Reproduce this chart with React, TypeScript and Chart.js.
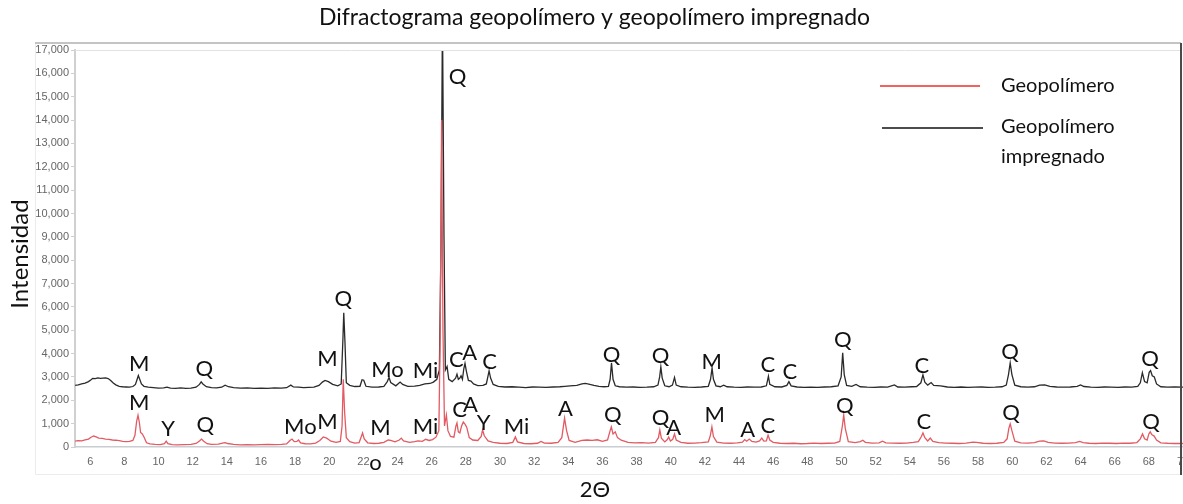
import React, { useEffect, useRef } from 'react';
import { Chart, registerables } from 'chart.js';

Chart.register(...registerables);

// 2θ axis
const TWO_THETA_MIN = 5.11;
const TWO_THETA_MAX = 70;
const X_TICKS = [6, 8, 10, 12, 14, 16, 18, 20, 22, 24, 26, 28, 30, 32, 34, 36, 38, 40, 42, 44, 46, 48, 50, 52, 54, 56, 58, 60, 62, 64, 66, 68, 70];

// Intensity axis
const Y_MIN = 0;
const Y_MAX = 17000;
const Y_STEP = 1000;

const TITLE = 'Difractograma geopolímero y geopolímero impregnado';
const Y_TITLE = 'Intensidad';
const X_TITLE = '2Θ';
const SERIES_NAMES = ['Geopolímero', 'Geopolímero impregnado'];

// Geopolímero: [2θ, intensidad]
const geopolimero: [number, number][] = [
  [5.12, 250], [5.3, 270], [5.5, 260], [5.7, 300], [5.9, 340], [6.05, 420], [6.2, 470], [6.35, 430], [6.5, 380], [6.7, 370],
  [6.9, 340], [7.1, 330], [7.3, 300], [7.5, 290], [7.7, 270], [7.9, 240], [8.1, 230], [8.3, 240], [8.5, 280], [8.62, 500],
  [8.72, 1100], [8.8, 1360], [8.88, 1050], [8.95, 620], [9.05, 560], [9.15, 430], [9.3, 180], [9.5, 130], [9.8, 110], [10.1, 100],
  [10.35, 140], [10.45, 250], [10.55, 140], [10.8, 100], [11.1, 90], [11.5, 100], [11.9, 110], [12.2, 150], [12.4, 260], [12.52, 340],
  [12.65, 250], [12.85, 140], [13.1, 110], [13.5, 120], [13.75, 170], [13.9, 190], [14.05, 150], [14.4, 110], [14.8, 90], [15.2, 100],
  [15.6, 90], [16.0, 100], [16.4, 110], [16.8, 100], [17.2, 110], [17.5, 130], [17.7, 280], [17.82, 340], [17.95, 230], [18.1, 240],
  [18.2, 300], [18.32, 180], [18.6, 140], [18.9, 130], [19.2, 170], [19.45, 280], [19.65, 430], [19.85, 380], [20.1, 250], [20.4, 200],
  [20.65, 240], [20.75, 900], [20.82, 2900], [20.9, 1500], [21.0, 400], [21.2, 230], [21.5, 170], [21.75, 190], [21.88, 450], [21.95, 600],
  [22.05, 350], [22.25, 180], [22.6, 150], [22.9, 160], [23.2, 200], [23.45, 300], [23.6, 280], [23.85, 220], [24.1, 300], [24.22, 380],
  [24.35, 260], [24.7, 200], [25.0, 230], [25.2, 260], [25.45, 240], [25.65, 330], [25.85, 280], [26.05, 320], [26.25, 420], [26.42, 700],
  [26.5, 5000], [26.58, 14000], [26.66, 5000], [26.75, 900], [26.86, 1370], [26.95, 700], [27.1, 450], [27.3, 420], [27.42, 900], [27.48, 1030],
  [27.56, 650], [27.65, 600], [27.75, 900], [27.85, 1070], [27.95, 980], [28.05, 850], [28.2, 400], [28.4, 300], [28.7, 280], [28.9, 450],
  [28.98, 730], [29.08, 480], [29.3, 260], [29.6, 200], [30.0, 160], [30.4, 150], [30.75, 200], [30.9, 430], [31.02, 220], [31.4, 150],
  [31.8, 140], [32.2, 160], [32.4, 240], [32.6, 170], [33.0, 160], [33.4, 200], [33.62, 400], [33.78, 1240], [33.9, 700], [34.05, 280],
  [34.4, 200], [34.8, 280], [35.1, 300], [35.4, 280], [35.7, 310], [36.0, 240], [36.3, 300], [36.45, 700], [36.52, 860], [36.62, 560],
  [36.75, 650], [36.88, 400], [37.1, 290], [37.5, 200], [37.9, 180], [38.3, 190], [38.7, 170], [39.1, 200], [39.28, 400], [39.36, 730],
  [39.45, 380], [39.65, 220], [39.8, 320], [39.88, 430], [39.98, 260], [40.12, 330], [40.22, 560], [40.32, 300], [40.6, 200], [41.0, 160],
  [41.4, 170], [41.8, 190], [42.2, 220], [42.32, 500], [42.41, 860], [42.5, 450], [42.7, 210], [43.1, 170], [43.5, 160], [43.9, 180],
  [44.2, 210], [44.33, 320], [44.45, 250], [44.6, 340], [44.75, 240], [45.0, 210], [45.2, 260], [45.33, 380], [45.45, 250], [45.6, 260],
  [45.7, 510], [45.8, 300], [46.0, 200], [46.4, 160], [46.8, 150], [47.2, 160], [47.6, 140], [48.0, 150], [48.4, 170], [48.8, 150],
  [49.2, 160], [49.6, 170], [49.9, 240], [50.05, 900], [50.13, 1370], [50.22, 800], [50.4, 230], [50.8, 190], [51.1, 230], [51.25, 290],
  [51.4, 200], [51.8, 170], [52.2, 180], [52.4, 250], [52.6, 180], [53.0, 170], [53.4, 160], [53.8, 170], [54.2, 200], [54.5, 230],
  [54.68, 450], [54.77, 600], [54.88, 400], [55.05, 260], [55.2, 380], [55.35, 240], [55.7, 190], [56.1, 170], [56.5, 160], [56.9, 150],
  [57.3, 170], [57.7, 210], [57.9, 200], [58.3, 160], [58.7, 150], [59.1, 160], [59.5, 200], [59.7, 350], [59.8, 800], [59.88, 990],
  [59.98, 700], [60.15, 250], [60.5, 180], [60.9, 170], [61.3, 190], [61.6, 250], [61.85, 260], [62.1, 200], [62.5, 170], [62.9, 160],
  [63.3, 170], [63.7, 190], [63.95, 240], [64.15, 190], [64.5, 160], [64.9, 150], [65.3, 170], [65.7, 160], [66.1, 150], [66.5, 170],
  [66.9, 160], [67.3, 190], [67.5, 350], [67.63, 560], [67.75, 350], [67.9, 300], [68.0, 560], [68.08, 650], [68.18, 520], [68.3, 480],
  [68.45, 300], [68.7, 180], [69.1, 160], [69.5, 150], [70.0, 150],
];

// Geopolímero impregnado: [2θ, intensidad]
const geopolimeroImpregnado: [number, number][] = [
  [5.12, 2640], [5.3, 2660], [5.5, 2700], [5.7, 2740], [5.9, 2800], [6.05, 2880], [6.15, 2940], [6.3, 2930], [6.45, 2960], [6.6, 2940],
  [6.75, 2950], [6.9, 2960], [7.05, 2930], [7.2, 2850], [7.35, 2740], [7.5, 2660], [7.7, 2600], [7.9, 2580], [8.1, 2570], [8.3, 2560],
  [8.5, 2590], [8.65, 2680], [8.75, 2900], [8.82, 3060], [8.9, 2900], [9.0, 2700], [9.15, 2600], [9.4, 2560], [9.7, 2540], [10.0, 2520],
  [10.3, 2530], [10.5, 2560], [10.7, 2520], [11.0, 2510], [11.3, 2530], [11.6, 2510], [11.9, 2520], [12.2, 2560], [12.4, 2680], [12.5, 2790],
  [12.6, 2700], [12.8, 2580], [13.1, 2540], [13.4, 2530], [13.7, 2560], [13.9, 2650], [14.1, 2580], [14.4, 2540], [14.8, 2520], [15.2, 2530],
  [15.6, 2510], [16.0, 2520], [16.4, 2510], [16.8, 2530], [17.2, 2520], [17.5, 2540], [17.75, 2650], [17.9, 2570], [18.2, 2560], [18.5, 2540],
  [18.8, 2550], [19.1, 2560], [19.4, 2640], [19.6, 2780], [19.75, 2850], [19.95, 2800], [20.2, 2680], [20.5, 2620], [20.7, 2700], [20.8, 4600],
  [20.85, 5750], [20.92, 4500], [21.0, 2750], [21.2, 2640], [21.5, 2590], [21.8, 2600], [21.92, 2880], [22.02, 2860], [22.15, 2600], [22.5, 2560],
  [22.9, 2570], [23.2, 2600], [23.4, 2800], [23.5, 2980], [23.6, 2760], [23.9, 2620], [24.15, 2780], [24.3, 2680], [24.6, 2600], [25.0, 2610],
  [25.3, 2640], [25.6, 2700], [25.9, 2720], [26.1, 2780], [26.3, 2900], [26.45, 3300], [26.55, 9000], [26.63, 18500], [26.72, 9000], [26.8, 3300],
  [26.9, 3450], [27.0, 2900], [27.2, 2800], [27.4, 2950], [27.48, 3120], [27.56, 2900], [27.65, 2950], [27.72, 3050], [27.8, 2900], [27.88, 3350],
  [27.95, 3580], [28.03, 3250], [28.15, 2850], [28.3, 2820], [28.45, 2700], [28.7, 2630], [29.0, 2640], [29.2, 2700], [29.3, 3050], [29.36, 3260],
  [29.45, 2950], [29.6, 2680], [29.9, 2600], [30.3, 2570], [30.7, 2580], [31.1, 2560], [31.5, 2540], [31.9, 2570], [32.3, 2560], [32.7, 2550],
  [33.1, 2570], [33.5, 2580], [33.8, 2600], [34.1, 2620], [34.5, 2640], [34.8, 2700], [35.0, 2720], [35.2, 2690], [35.5, 2640], [35.8, 2600],
  [36.1, 2580], [36.35, 2600], [36.45, 2900], [36.53, 3600], [36.62, 2900], [36.75, 2620], [37.0, 2580], [37.4, 2560], [37.8, 2570], [38.2, 2550],
  [38.6, 2560], [39.0, 2580], [39.25, 2650], [39.35, 3000], [39.42, 3430], [39.5, 2950], [39.65, 2620], [39.9, 2580], [40.1, 2650], [40.22, 2980],
  [40.32, 2650], [40.6, 2580], [41.0, 2560], [41.4, 2550], [41.8, 2570], [42.2, 2600], [42.33, 2900], [42.42, 3380], [42.5, 2900], [42.65, 2620],
  [42.9, 2580], [43.1, 2650], [43.3, 2580], [43.7, 2560], [44.1, 2550], [44.5, 2570], [44.9, 2560], [45.3, 2570], [45.6, 2620], [45.72, 3030],
  [45.8, 2680], [46.1, 2580], [46.5, 2570], [46.8, 2640], [46.92, 2800], [47.05, 2620], [47.4, 2570], [47.8, 2550], [48.2, 2560], [48.6, 2550],
  [49.0, 2570], [49.4, 2580], [49.8, 2620], [49.98, 3000], [50.07, 4030], [50.16, 3100], [50.3, 2640], [50.6, 2600], [50.85, 2680], [51.1, 2580],
  [51.5, 2560], [51.9, 2550], [52.3, 2570], [52.7, 2560], [53.1, 2660], [53.3, 2570], [53.7, 2560], [54.1, 2580], [54.4, 2590], [54.65, 2750],
  [54.77, 3090], [54.88, 2780], [55.05, 2650], [55.25, 2760], [55.4, 2640], [55.8, 2620], [56.2, 2570], [56.6, 2550], [57.0, 2570], [57.4, 2550],
  [57.8, 2560], [58.2, 2570], [58.6, 2550], [59.0, 2560], [59.4, 2580], [59.65, 2650], [59.78, 3100], [59.88, 3600], [59.98, 3100], [60.15, 2650],
  [60.5, 2580], [60.9, 2560], [61.3, 2580], [61.6, 2650], [61.9, 2660], [62.2, 2600], [62.6, 2570], [63.0, 2560], [63.4, 2570], [63.8, 2600],
  [64.0, 2660], [64.2, 2590], [64.6, 2560], [65.0, 2550], [65.4, 2570], [65.8, 2560], [66.2, 2550], [66.6, 2570], [67.0, 2560], [67.35, 2600],
  [67.5, 2750], [67.62, 3180], [67.75, 2800], [67.9, 2750], [68.02, 3200], [68.1, 3270], [68.2, 3050], [68.32, 3000], [68.45, 2700], [68.7, 2580],
  [69.1, 2560], [69.5, 2570], [70.0, 2560],
];

// Phase labels above the impregnated pattern: [fase, 2θ, intensidad]
const impregnadoPhases: [string, number, number][] = [
  ['M', 8.87, 3560], ['Q', 12.68, 3350], ['M', 19.89, 3780], ['Q', 20.83, 6350], ['Mo', 23.41, 3300],
  ['Mi', 25.64, 3260], ['Q', 27.51, 15840], ['C', 27.45, 3730], ['A', 28.22, 4030], ['C', 29.39, 3650],
  ['Q', 36.54, 3950], ['Q', 39.41, 3900], ['M', 42.4, 3650], ['C', 45.68, 3520], ['C', 46.97, 3220],
  ['Q', 50.08, 4590], ['C', 54.71, 3480], ['Q', 59.87, 4080], ['Q', 68.07, 3780],
];

// Phase labels above the geopolymer pattern: [fase, 2θ, intensidad]
const geopolimeroPhases: [string, number, number][] = [
  ['M', 8.87, 1890], ['Y', 10.57, 770], ['Q', 12.74, 940], ['Mo', 18.31, 860], ['M', 19.89, 1070],
  ['M', 23.0, 815], ['o', 22.71, -690], ['Mi', 25.64, 860], ['C', 27.63, 1590], ['A', 28.27, 1800],
  ['Y', 29.04, 1030], ['Mi', 30.97, 860], ['A', 33.84, 1630], ['Q', 36.6, 1370], ['Q', 39.41, 1245],
  ['A', 40.17, 815], ['M', 42.58, 1370], ['A', 44.51, 730], ['C', 45.68, 900], ['Q', 50.2, 1760],
  ['C', 54.83, 1070], ['Q', 59.93, 1460], ['Q', 68.13, 1070],
];

const RED = '#e25a62';
const DARK = '#2a2a2a';
const TEXT = '#111111';
const TEXT_FONT = 'Lato, "Open Sans", sans-serif';

const decorations = {
  id: 'decorations',
  afterDraw(chart: any) {
    const { ctx, chartArea, scales } = chart;
    const xs = scales.x;
    const ys = scales.y;
    const W = chart.width;
    ctx.save();

    // outer frame
    ctx.strokeStyle = '#ececec';
    ctx.lineWidth = 1;
    ctx.beginPath();
    ctx.moveTo(35.5, 43);
    ctx.lineTo(35.5, 474.5);
    ctx.lineTo(chartArea.right - 2, 474.5);
    ctx.stroke();

    ctx.strokeStyle = '#c4c4c4';
    ctx.lineWidth = 2;
    ctx.beginPath();
    ctx.moveTo(35, 43);
    ctx.lineTo(chartArea.right - 2, 43);
    ctx.stroke();

    ctx.strokeStyle = '#e2e2e2';
    ctx.lineWidth = 1;
    ctx.beginPath();
    ctx.moveTo(chartArea.left, chartArea.top + 0.5);
    ctx.lineTo(chartArea.right - 2, chartArea.top + 0.5);
    ctx.stroke();

    ctx.strokeStyle = '#4a4a4a';
    ctx.lineWidth = 2;
    ctx.beginPath();
    ctx.moveTo(chartArea.right - 2, 43);
    ctx.lineTo(chartArea.right - 2, 475);
    ctx.stroke();

    // phase labels
    ctx.fillStyle = TEXT;
    ctx.textAlign = 'center';
    ctx.textBaseline = 'middle';
    ctx.font = `22px ${TEXT_FONT}`;
    for (const [label, x, y] of [...impregnadoPhases, ...geopolimeroPhases]) {
      ctx.fillText(label, xs.getPixelForValue(x), ys.getPixelForValue(y));
    }

    // title
    ctx.font = `23px ${TEXT_FONT}`;
    ctx.fillText(TITLE, W / 2 + 3, 18);

    // axis titles
    ctx.font = `22px ${TEXT_FONT}`;
    ctx.fillText(X_TITLE, 595, 490);
    ctx.save();
    ctx.translate(20, 254);
    ctx.rotate(-Math.PI / 2);
    ctx.font = `24px ${TEXT_FONT}`;
    ctx.fillText(Y_TITLE, 0, 0);
    ctx.restore();

    // legend
    ctx.lineWidth = 1.6;
    ctx.strokeStyle = '#e8322b';
    ctx.beginPath();
    ctx.moveTo(880, 86);
    ctx.lineTo(980, 86);
    ctx.stroke();
    ctx.strokeStyle = '#111';
    ctx.beginPath();
    ctx.moveTo(882, 128);
    ctx.lineTo(983, 128);
    ctx.stroke();
    ctx.textAlign = 'left';
    ctx.font = `20px ${TEXT_FONT}`;
    ctx.fillText(SERIES_NAMES[0], 1001, 86);
    const [first, second] = SERIES_NAMES[1].split(' ');
    ctx.fillText(first, 1001, 127);
    ctx.fillText(second, 1001, 157);

    ctx.restore();
  },
};

export default function App() {
  const canvasRef = useRef<HTMLCanvasElement | null>(null);

  useEffect(() => {
    const canvas = canvasRef.current;
    if (!canvas) return;
    const chart = new Chart(canvas, {
      type: 'line',
      data: {
        datasets: [
          {
            label: SERIES_NAMES[0],
            data: geopolimero.map(([x, y]) => ({ x, y })),
            borderColor: RED,
            borderWidth: 1.3,
            pointRadius: 0,
            tension: 0,
            fill: false,
          },
          {
            label: SERIES_NAMES[1],
            data: geopolimeroImpregnado.map(([x, y]) => ({ x, y })),
            borderColor: DARK,
            borderWidth: 1.3,
            pointRadius: 0,
            tension: 0,
            fill: false,
          },
        ],
      },
      options: {
        responsive: false,
        animation: false,
        devicePixelRatio: 1,
        layout: { padding: { top: 50, left: 0, right: 0, bottom: 0 } },
        plugins: {
          legend: { display: false },
          title: { display: false },
          tooltip: { enabled: false },
        },
        scales: {
          x: {
            type: 'linear',
            min: TWO_THETA_MIN,
            max: TWO_THETA_MAX,
            afterBuildTicks: (scale: any) => {
              scale.ticks = X_TICKS.map((value) => ({ value }));
            },
            afterFit: (scale: any) => {
              scale.height = 57;
              scale.paddingLeft = 0;
              scale.paddingRight = 0;
            },
            grid: { drawOnChartArea: false, drawTicks: false },
            border: { color: '#c9ccd0', width: 1.5 },
            ticks: {
              padding: 8,
              maxRotation: 0,
              autoSkip: false,
              color: '#666',
              font: { family: '"Liberation Sans", Arial, sans-serif', size: 11 },
              callback: (v: any) => String(v),
            },
          },
          y: {
            min: Y_MIN,
            max: Y_MAX,
            afterFit: (scale: any) => {
              scale.width = 75;
            },
            grid: { drawOnChartArea: false, drawTicks: true, tickLength: 4, tickColor: '#cfcfcf' },
            border: { color: '#d0d0d0', width: 2 },
            ticks: {
              stepSize: Y_STEP,
              padding: 2,
              color: '#666',
              font: { family: '"Liberation Sans", Arial, sans-serif', size: 11 },
              callback: (v: any) => Number(v).toLocaleString('en-US'),
            },
          },
        },
      },
      plugins: [decorations],
    });
    return () => chart.destroy();
  }, []);

  return (
    <div style={{ position: 'fixed', left: 0, top: 0, width: 1183, height: 504, overflow: 'hidden', background: '#fff' }}>
      <canvas ref={canvasRef} width={1183} height={504} style={{ display: 'block' }} />
    </div>
  );
}
